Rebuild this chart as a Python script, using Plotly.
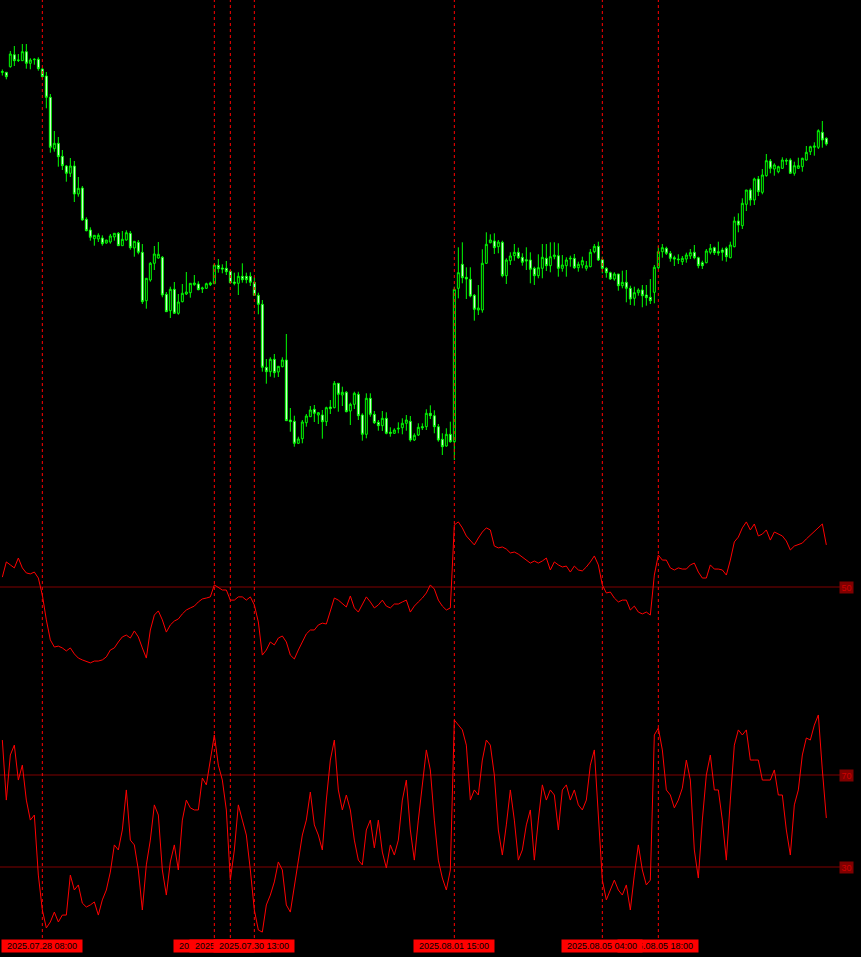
import plotly.graph_objects as go

# ---------------- data (hourly candles, 207 bars) ----------------
bar_index = list(range(207))

open_ = [
    1.17275, 1.17277, 1.17333, 1.17453, 1.17400, 1.17393, 1.17483, 1.17367, 1.17403, 1.17407,
    1.17310, 1.17240, 1.17027, 1.16513, 1.16567, 1.16437, 1.16340, 1.16267, 1.16340, 1.16060,
    1.16120, 1.15807, 1.15700, 1.15613, 1.15610, 1.15620, 1.15570, 1.15580, 1.15630, 1.15667,
    1.15543, 1.15600, 1.15667, 1.15520, 1.15577, 1.15477, 1.14993, 1.15200, 1.15367, 1.15420,
    1.15427, 1.15057, 1.14893, 1.15107, 1.14867, 1.14983, 1.15060, 1.15073, 1.15153, 1.15160,
    1.15110, 1.15117, 1.15153, 1.15163, 1.15347, 1.15320, 1.15317, 1.15287, 1.15180, 1.15167,
    1.15237, 1.15237, 1.15237, 1.15177, 1.15047, 1.14957, 1.14327, 1.14283, 1.14407, 1.14280,
    1.14333, 1.14400, 1.13800, 1.13787, 1.13567, 1.13613, 1.13773, 1.13833, 1.13907, 1.13850,
    1.13850, 1.13783, 1.13930, 1.13923, 1.14167, 1.14050, 1.14077, 1.13890, 1.13957, 1.14057,
    1.13850, 1.13657, 1.14017, 1.13857, 1.13777, 1.13743, 1.13817, 1.13677, 1.13667, 1.13710,
    1.13723, 1.13767, 1.13787, 1.13600, 1.13650, 1.13733, 1.13733, 1.13867, 1.13843, 1.13733,
    1.13607, 1.13540, 1.13657, 1.13583, 1.15117, 1.15357, 1.15227, 1.15207, 1.15047, 1.14900,
    1.14900, 1.15367, 1.15573, 1.15590, 1.15533, 1.15577, 1.15243, 1.15393, 1.15443, 1.15477,
    1.15427, 1.15403, 1.15400, 1.15317, 1.15243, 1.15317, 1.15417, 1.15343, 1.15433, 1.15443,
    1.15317, 1.15343, 1.15410, 1.15417, 1.15323, 1.15350, 1.15317, 1.15333, 1.15483, 1.15537,
    1.15403, 1.15317, 1.15273, 1.15210, 1.15260, 1.15143, 1.15177, 1.15117, 1.15017, 1.15073,
    1.15100, 1.15050, 1.15027, 1.15077, 1.15323, 1.15483, 1.15517, 1.15467, 1.15423, 1.15410,
    1.15383, 1.15410, 1.15440, 1.15477, 1.15423, 1.15373, 1.15373, 1.15477, 1.15523, 1.15483,
    1.15500, 1.15517, 1.15423, 1.15533, 1.15790, 1.15743, 1.15957, 1.16100, 1.16000, 1.16210,
    1.16077, 1.16243, 1.16390, 1.16310, 1.16283, 1.16317, 1.16397, 1.16400, 1.16267, 1.16317,
    1.16333, 1.16400, 1.16483, 1.16527, 1.16527, 1.16677, 1.16617,
]

high = [
    1.17305, 1.17280, 1.17490, 1.17540, 1.17460, 1.17560, 1.17560, 1.17417, 1.17417, 1.17427,
    1.17317, 1.17280, 1.17060, 1.16690, 1.16630, 1.16500, 1.16350, 1.16420, 1.16390, 1.16230,
    1.16140, 1.15827, 1.15727, 1.15647, 1.15667, 1.15647, 1.15600, 1.15660, 1.15667, 1.15680,
    1.15690, 1.15697, 1.15690, 1.15587, 1.15600, 1.15560, 1.15217, 1.15380, 1.15540, 1.15580,
    1.15440, 1.15080, 1.15133, 1.15180, 1.15060, 1.15160, 1.15280, 1.15167, 1.15250, 1.15187,
    1.15133, 1.15173, 1.15183, 1.15367, 1.15410, 1.15357, 1.15390, 1.15300, 1.15273, 1.15277,
    1.15367, 1.15273, 1.15277, 1.15227, 1.15073, 1.15000, 1.14410, 1.14427, 1.14460, 1.14337,
    1.14427, 1.14660, 1.13920, 1.13843, 1.13633, 1.13800, 1.13860, 1.13940, 1.13950, 1.13880,
    1.13900, 1.13933, 1.14000, 1.14190, 1.14167, 1.14133, 1.14090, 1.13973, 1.14083, 1.14083,
    1.13867, 1.14067, 1.14067, 1.13890, 1.13800, 1.13890, 1.13877, 1.13727, 1.13717, 1.13777,
    1.13817, 1.13850, 1.13840, 1.13667, 1.13767, 1.13767, 1.13907, 1.13947, 1.13897, 1.13760,
    1.13667, 1.13717, 1.13783, 1.15133, 1.15527, 1.15577, 1.15327, 1.15327, 1.15060, 1.15150,
    1.15507, 1.15677, 1.15657, 1.15667, 1.15600, 1.15593, 1.15417, 1.15477, 1.15560, 1.15523,
    1.15467, 1.15527, 1.15477, 1.15333, 1.15457, 1.15560, 1.15560, 1.15577, 1.15577, 1.15567,
    1.15450, 1.15427, 1.15443, 1.15460, 1.15383, 1.15433, 1.15390, 1.15510, 1.15560, 1.15583,
    1.15433, 1.15327, 1.15283, 1.15277, 1.15260, 1.15293, 1.15300, 1.15143, 1.15133, 1.15117,
    1.15150, 1.15150, 1.15210, 1.15350, 1.15540, 1.15560, 1.15533, 1.15490, 1.15443, 1.15457,
    1.15440, 1.15473, 1.15510, 1.15550, 1.15433, 1.15393, 1.15510, 1.15560, 1.15533, 1.15583,
    1.15523, 1.15533, 1.15583, 1.15833, 1.15867, 1.16017, 1.16100, 1.16117, 1.16223, 1.16240,
    1.16310, 1.16460, 1.16410, 1.16367, 1.16343, 1.16427, 1.16417, 1.16417, 1.16383, 1.16423,
    1.16423, 1.16540, 1.16543, 1.16577, 1.16707, 1.16790, 1.16627,
]

low = [
    1.17245, 1.17207, 1.17323, 1.17340, 1.17380, 1.17393, 1.17313, 1.17307, 1.17353, 1.17293,
    1.17227, 1.16917, 1.16473, 1.16483, 1.16333, 1.16300, 1.16183, 1.16230, 1.15980, 1.16033,
    1.15793, 1.15687, 1.15593, 1.15543, 1.15580, 1.15543, 1.15563, 1.15563, 1.15593, 1.15543,
    1.15543, 1.15593, 1.15503, 1.15433, 1.15457, 1.14960, 1.14913, 1.15183, 1.15300, 1.15413,
    1.15027, 1.14883, 1.14820, 1.14860, 1.14853, 1.14977, 1.15050, 1.15023, 1.15143, 1.15097,
    1.15070, 1.15110, 1.15140, 1.15163, 1.15273, 1.15267, 1.15250, 1.15167, 1.15147, 1.15050,
    1.15173, 1.15167, 1.15140, 1.15040, 1.14857, 1.14283, 1.14163, 1.14233, 1.14223, 1.14230,
    1.14327, 1.13793, 1.13683, 1.13533, 1.13560, 1.13567, 1.13733, 1.13833, 1.13780, 1.13760,
    1.13613, 1.13740, 1.13860, 1.13917, 1.13883, 1.13940, 1.13877, 1.13750, 1.13910, 1.13800,
    1.13593, 1.13617, 1.13833, 1.13760, 1.13693, 1.13690, 1.13657, 1.13633, 1.13660, 1.13667,
    1.13657, 1.13693, 1.13583, 1.13590, 1.13640, 1.13700, 1.13700, 1.13810, 1.13667, 1.13583,
    1.13450, 1.13533, 1.13573, 1.13400, 1.15017, 1.15167, 1.15010, 1.15027, 1.14793, 1.14850,
    1.14873, 1.15360, 1.15567, 1.15460, 1.15467, 1.15227, 1.15160, 1.15350, 1.15393, 1.15410,
    1.15343, 1.15300, 1.15167, 1.15150, 1.15217, 1.15217, 1.15290, 1.15277, 1.15407, 1.15233,
    1.15283, 1.15233, 1.15333, 1.15310, 1.15283, 1.15317, 1.15293, 1.15327, 1.15467, 1.15390,
    1.15267, 1.15223, 1.15200, 1.15193, 1.15093, 1.15117, 1.14977, 1.14950, 1.14943, 1.15043,
    1.14927, 1.14943, 1.14960, 1.14967, 1.15307, 1.15423, 1.15450, 1.15383, 1.15340, 1.15360,
    1.15350, 1.15373, 1.15410, 1.15407, 1.15317, 1.15310, 1.15367, 1.15457, 1.15450, 1.15443,
    1.15393, 1.15383, 1.15417, 1.15527, 1.15677, 1.15710, 1.15890, 1.15943, 1.15950, 1.16040,
    1.16057, 1.16233, 1.16267, 1.16243, 1.16267, 1.16310, 1.16350, 1.16260, 1.16243, 1.16310,
    1.16283, 1.16393, 1.16450, 1.16443, 1.16510, 1.16523, 1.16543,
]

close = [
    1.17285, 1.17233, 1.17460, 1.17393, 1.17397, 1.17483, 1.17367, 1.17400, 1.17407, 1.17313,
    1.17233, 1.17027, 1.16527, 1.16567, 1.16433, 1.16343, 1.16267, 1.16340, 1.16060, 1.16117,
    1.15800, 1.15693, 1.15627, 1.15647, 1.15647, 1.15563, 1.15600, 1.15640, 1.15667, 1.15543,
    1.15607, 1.15673, 1.15523, 1.15587, 1.15477, 1.14983, 1.15217, 1.15367, 1.15460, 1.15457,
    1.15050, 1.14883, 1.15107, 1.14867, 1.14980, 1.15067, 1.15080, 1.15167, 1.15170, 1.15103,
    1.15120, 1.15163, 1.15170, 1.15350, 1.15313, 1.15310, 1.15283, 1.15173, 1.15167, 1.15237,
    1.15203, 1.15203, 1.15177, 1.15047, 1.14957, 1.14327, 1.14283, 1.14407, 1.14273, 1.14337,
    1.14400, 1.13793, 1.13783, 1.13567, 1.13610, 1.13780, 1.13840, 1.13900, 1.13867, 1.13873,
    1.13783, 1.13923, 1.13913, 1.14167, 1.14057, 1.14077, 1.13883, 1.13957, 1.14067, 1.13843,
    1.13657, 1.14017, 1.13857, 1.13773, 1.13743, 1.13817, 1.13667, 1.13667, 1.13700, 1.13717,
    1.13767, 1.13800, 1.13600, 1.13647, 1.13727, 1.13723, 1.13867, 1.13843, 1.13733, 1.13600,
    1.13533, 1.13657, 1.13583, 1.15107, 1.15273, 1.15223, 1.15210, 1.15040, 1.14907, 1.14920,
    1.15367, 1.15557, 1.15600, 1.15523, 1.15580, 1.15243, 1.15400, 1.15440, 1.15477, 1.15423,
    1.15377, 1.15390, 1.15307, 1.15243, 1.15323, 1.15427, 1.15343, 1.15433, 1.15450, 1.15317,
    1.15350, 1.15400, 1.15417, 1.15323, 1.15357, 1.15393, 1.15343, 1.15477, 1.15537, 1.15400,
    1.15317, 1.15273, 1.15210, 1.15260, 1.15143, 1.15177, 1.15117, 1.15010, 1.15073, 1.15100,
    1.15043, 1.15023, 1.14993, 1.15327, 1.15483, 1.15523, 1.15467, 1.15417, 1.15410, 1.15403,
    1.15417, 1.15450, 1.15473, 1.15423, 1.15343, 1.15343, 1.15490, 1.15517, 1.15473, 1.15470,
    1.15477, 1.15433, 1.15550, 1.15790, 1.15750, 1.15967, 1.16100, 1.16000, 1.16210, 1.16083,
    1.16250, 1.16393, 1.16317, 1.16350, 1.16333, 1.16400, 1.16390, 1.16267, 1.16343, 1.16343,
    1.16417, 1.16477, 1.16533, 1.16540, 1.16693, 1.16600, 1.16560,
]

# slow oscillator (middle window, 0..100)
osc_slow = [
    54.3, 60.9, 59.6, 58.3, 62.6, 58.3, 56.1, 55.7, 56.5, 53.9,
    46.5, 35.7, 27.0, 23.9, 24.3, 23.5, 22.2, 23.5, 20.9, 19.1,
    18.3, 17.8, 17.0, 17.8, 17.8, 18.3, 19.6, 22.6, 23.5, 26.1,
    28.3, 29.1, 27.8, 30.9, 28.3, 23.5, 19.1, 31.3, 37.8, 39.6,
    35.7, 30.4, 33.5, 35.2, 36.1, 38.3, 40.0, 40.9, 41.7, 43.5,
    44.8, 45.2, 45.7, 50.9, 49.6, 48.7, 48.7, 44.3, 44.3, 45.7,
    45.7, 44.3, 45.7, 42.2, 34.8, 20.4, 22.6, 26.1, 24.8, 27.8,
    28.7, 26.1, 20.4, 18.7, 22.6, 26.5, 29.6, 31.3, 31.3, 33.5,
    34.3, 33.9, 39.1, 45.2, 44.3, 42.6, 41.3, 46.1, 40.9, 39.1,
    42.2, 45.7, 43.5, 40.9, 42.2, 44.3, 41.7, 40.9, 42.6, 42.6,
    43.5, 44.3, 39.1, 41.7, 43.5, 45.2, 47.4, 50.9, 49.1, 44.3,
    41.7, 40.0, 40.9, 77.0, 78.3, 75.7, 72.2, 70.4, 68.3, 71.3,
    73.9, 75.7, 74.8, 67.8, 67.0, 67.4, 66.5, 64.8, 65.2, 64.3,
    63.0, 61.7, 60.4, 61.3, 60.4, 61.3, 62.6, 57.4, 60.9, 59.6,
    58.7, 59.1, 56.5, 59.1, 57.4, 57.0, 58.7, 60.9, 63.5, 59.6,
    50.9, 47.4, 47.8, 45.2, 43.5, 44.3, 44.3, 40.0, 41.7, 39.1,
    38.3, 39.1, 37.8, 55.2, 63.9, 61.7, 61.7, 58.3, 57.4, 58.3,
    57.8, 57.8, 59.6, 60.4, 56.5, 53.9, 53.9, 59.6, 57.8, 57.8,
    57.4, 55.2, 61.7, 69.6, 71.7, 75.7, 78.3, 74.8, 77.4, 72.2,
    73.0, 74.8, 70.4, 73.9, 73.0, 72.2, 70.0, 66.1, 67.8, 68.3,
    69.1, 70.9, 72.6, 74.3, 76.1, 77.4, 68.3,
]

# fast oscillator (bottom window, 0..100)
osc_fast = [
    85.2, 59.1, 78.7, 83.0, 67.8, 74.3, 59.1, 50.4, 52.6, 26.5,
    11.3, 3.5, 6.1, 10.4, 6.1, 9.1, 9.1, 26.5, 20.0, 22.2,
    14.3, 12.6, 13.5, 14.8, 9.1, 15.7, 20.0, 27.8, 39.6, 37.4,
    46.1, 63.5, 41.7, 39.6, 28.7, 11.3, 30.9, 41.7, 57.0, 52.6,
    28.7, 17.8, 32.2, 39.6, 28.7, 50.4, 59.1, 55.7, 54.8, 54.8,
    68.7, 65.7, 76.5, 87.4, 74.3, 67.8, 54.8, 24.3, 37.4, 57.0,
    50.4, 43.9, 28.7, 11.3, 2.6, 1.7, 13.5, 17.8, 23.5, 32.2,
    28.7, 13.5, 10.4, 22.2, 33.0, 43.9, 50.4, 62.6, 48.3, 43.9,
    37.4, 59.1, 76.5, 85.2, 63.5, 54.8, 61.3, 54.8, 41.7, 33.0,
    30.9, 46.1, 50.4, 38.3, 50.4, 36.5, 29.6, 39.6, 35.2, 41.7,
    59.1, 67.8, 46.1, 33.0, 50.4, 66.5, 80.9, 72.2, 50.4, 33.0,
    25.2, 20.0, 28.7, 93.9, 91.7, 89.6, 83.0, 59.1, 63.5, 61.3,
    76.5, 85.2, 83.0, 70.0, 46.1, 35.2, 48.3, 63.5, 50.4, 33.0,
    37.4, 48.3, 54.8, 33.0, 50.4, 65.7, 59.1, 63.5, 61.3, 46.1,
    63.5, 65.7, 59.1, 63.5, 57.0, 54.8, 59.1, 74.3, 80.9, 54.8,
    24.3, 15.7, 20.0, 24.3, 20.0, 17.8, 22.2, 11.3, 26.5, 39.6,
    28.7, 22.2, 24.3, 87.4, 90.4, 80.9, 63.5, 61.3, 55.7, 59.1,
    64.3, 76.5, 67.8, 37.4, 25.2, 50.4, 70.0, 78.7, 63.5, 63.5,
    50.4, 33.0, 59.1, 83.0, 89.6, 87.4, 89.6, 76.5, 76.5, 76.5,
    67.8, 67.8, 67.8, 72.2, 61.3, 61.3, 46.1, 35.2, 57.0, 63.5,
    78.7, 86.1, 85.2, 91.7, 96.1, 72.2, 51.3,
]

slow_levels = [50]
fast_levels = [70, 30]

marker_bars = [10, 53, 57, 63, 113, 164, 150]
marker_labels = ["2025.07.28 08:00", "2025.07.30 03:00", "2025.07.30 07:00",
                 "2025.07.30 13:00", "2025.08.01 15:00", "2025.08.05 18:00",
                 "2025.08.05 04:00"]

assert len(open_) == len(high) == len(low) == len(close) == 207
assert len(osc_slow) == 207 and len(osc_fast) == 207

# ---------------- figure ----------------
W, H = 861, 957
FONT = "Liberation Sans"

fig = go.Figure()
fig.add_trace(go.Candlestick(
    x=bar_index, open=open_, high=high, low=low, close=close,
    increasing=dict(line=dict(color="#00FF00", width=1), fillcolor="#000000"),
    decreasing=dict(line=dict(color="#00FF00", width=1), fillcolor="#FFFFFF"),
    whiskerwidth=0, xaxis="x", yaxis="y", hoverinfo="skip", showlegend=False))
fig.add_trace(go.Scatter(x=bar_index, y=osc_slow, mode="lines",
                         line=dict(color="#FF0000", width=1),
                         xaxis="x", yaxis="y2", hoverinfo="skip", showlegend=False))
fig.add_trace(go.Scatter(x=bar_index, y=osc_fast, mode="lines",
                         line=dict(color="#FF0000", width=1),
                         xaxis="x", yaxis="y3", hoverinfo="skip", showlegend=False))

shapes = []
annotations = []
lvl_x_end = 840 / W
for axis, levels in (("y2", slow_levels), ("y3", fast_levels)):
    for lv in levels:
        shapes.append(dict(type="line", xref="paper", yref=axis, x0=0, x1=lvl_x_end,
                           y0=lv, y1=lv, line=dict(color="#800000", width=1), layer="below"))
        annotations.append(dict(xref="paper", yref=axis, x=846.5 / W, y=lv, text=str(lv),
                                showarrow=False, xanchor="center", yanchor="middle",
                                font=dict(family=FONT, size=9, color="#D00000"),
                                bgcolor="#800000", borderpad=1, width=11, height=9))

for b in marker_bars:
    shapes.append(dict(type="line", xref="x", yref="paper", x0=b, x1=b,
                       y0=1 - 938 / H, y1=1,
                       line=dict(color="#FF0000", width=1, dash="3px,3px"), layer="above"))

for b, lab in zip(marker_bars, marker_labels):
    annotations.append(dict(xref="x", yref="paper", x=b, y=1 - 946 / H, text=lab,
                            showarrow=False, xanchor="center", yanchor="middle",
                            font=dict(family=FONT, size=9, color="#000000"),
                            bgcolor="#FF0000", borderpad=1, width=78, height=10))

fig.update_layout(
    width=W, height=H,
    margin=dict(l=0, r=0, t=0, b=0),
    paper_bgcolor="#000000", plot_bgcolor="#000000",
    showlegend=False,
    xaxis=dict(domain=[0, 1], range=[-0.583, 214.667], visible=False,
               rangeslider=dict(visible=False), fixedrange=True),
    yaxis=dict(domain=[1 - 468 / H, 1], range=[1.13320, 1.18000], visible=False),
    yaxis2=dict(domain=[1 - 702 / H, 1 - 472 / H], range=[0, 100], visible=False),
    yaxis3=dict(domain=[1 - 936 / H, 1 - 706 / H], range=[0, 100], visible=False),
    shapes=shapes,
    annotations=annotations,
)

fig.write_html(
    "out.html",
    config={"displayModeBar": False, "staticPlot": True},
    post_script="document.body.style.margin='0';document.body.style.background='#000';"
                "document.documentElement.style.overflow='hidden';",
)
